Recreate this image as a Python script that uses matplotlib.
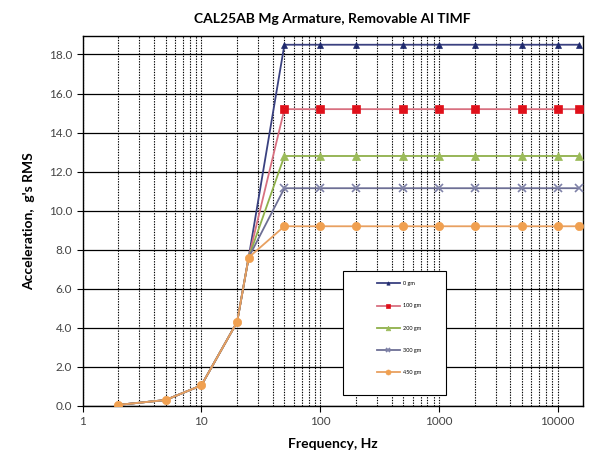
import matplotlib
matplotlib.use("Agg")
import matplotlib.pyplot as plt
from matplotlib.patches import Rectangle
from matplotlib.ticker import LogLocator, FixedLocator, NullFormatter, FuncFormatter

plt.rcParams["font.family"] = ["Lato", "DejaVu Sans"]

# frequency points (Hz)
FREQ = [2, 5, 10, 20, 25, 50, 100, 200, 500, 1000, 2000, 5000, 10000, 15000]
LOW = [0.05, 0.3, 1.05, 4.3, 7.6]
N_HIGH = len(FREQ) - len(LOW)

LABELS = ["0 gm", "100 gm", "200 gm", "300 gm", "450 gm"]
PLATEAU = [18.5, 15.2, 12.8, 11.15, 9.2]
COLORS = ["#1f2a6e", "#e0101a", "#9bbb59", "#7f82a8", "#f0a050"]
LINECOL = ["#3a4180", "#d87080", "#8fb04a", "#6d6f95", "#e8a060"]
MARKERS = ["^", "s", "^", "x", "o"]
MSIZE = [4, 5.5, 5.5, 6, 6]

fig = plt.figure(figsize=(5.9, 4.55), dpi=100)
ax = fig.add_axes([0.14, 0.108, 0.848, 0.813])

for i, (lab, val, c, lc, m, ms) in enumerate(zip(LABELS, PLATEAU, COLORS, LINECOL,
                                                  MARKERS, MSIZE)):
    y = LOW + [val] * N_HIGH
    last = i == len(LABELS) - 1
    ax.plot(FREQ, y, color=lc, lw=1.3, marker=m, ms=ms, mfc=c, mec=c,
            mew=1.2 if m == "x" else 0.5, label=lab,
            markevery=None if last else slice(len(LOW), None), zorder=3 + i)

ax.set_xscale("log")
ax.set_xlim(1, 16300)
ax.set_ylim(0, 18.95)

ax.xaxis.set_major_locator(FixedLocator([1, 10, 100, 1000, 10000]))
ax.xaxis.set_major_formatter(FuncFormatter(lambda v, p: f"{int(v)}"))
ax.xaxis.set_minor_locator(LogLocator(base=10, subs=range(2, 10), numticks=20))
ax.xaxis.set_minor_formatter(NullFormatter())
ax.set_yticks([i * 2.0 for i in range(10)])
ax.yaxis.set_major_formatter(FuncFormatter(lambda v, p: f"{v:.1f}"))

ax.grid(axis="y", which="major", color="black", lw=0.9, ls="-")
ax.grid(axis="x", which="both", color="black", lw=0.8, ls=(0, (1.2, 1.2)))
ax.set_axisbelow(True)

ax.tick_params(axis="both", which="major", labelsize=8.5, labelcolor="#444444",
               length=4, color="black")
ax.tick_params(axis="x", which="minor", length=0)
for s in ax.spines.values():
    s.set_color("black")
    s.set_linewidth(1.0)

ax.set_title("CAL25AB Mg Armature, Removable Al TIMF", fontsize=10,
             fontweight="bold", pad=9)
ax.set_xlabel("Frequency, Hz", fontsize=10, fontweight="bold", labelpad=8)
ax.set_ylabel("Acceleration,  g's RMS", fontsize=10, fontweight="bold", labelpad=10)

# legend box drawn separately, entries placed inside it
ax.add_patch(Rectangle((0.52, 0.03), 0.206, 0.335, transform=ax.transAxes,
                       facecolor="white", edgecolor="black", lw=0.8, zorder=20))
leg = ax.legend(loc="center", bbox_to_anchor=(0.632, 0.21), fontsize=4,
                frameon=False, labelspacing=3.1, handlelength=4.2,
                handletextpad=0.5, markerscale=0.6, borderpad=0)
leg.set_zorder(21)

fig.savefig("out.png", dpi=100)
